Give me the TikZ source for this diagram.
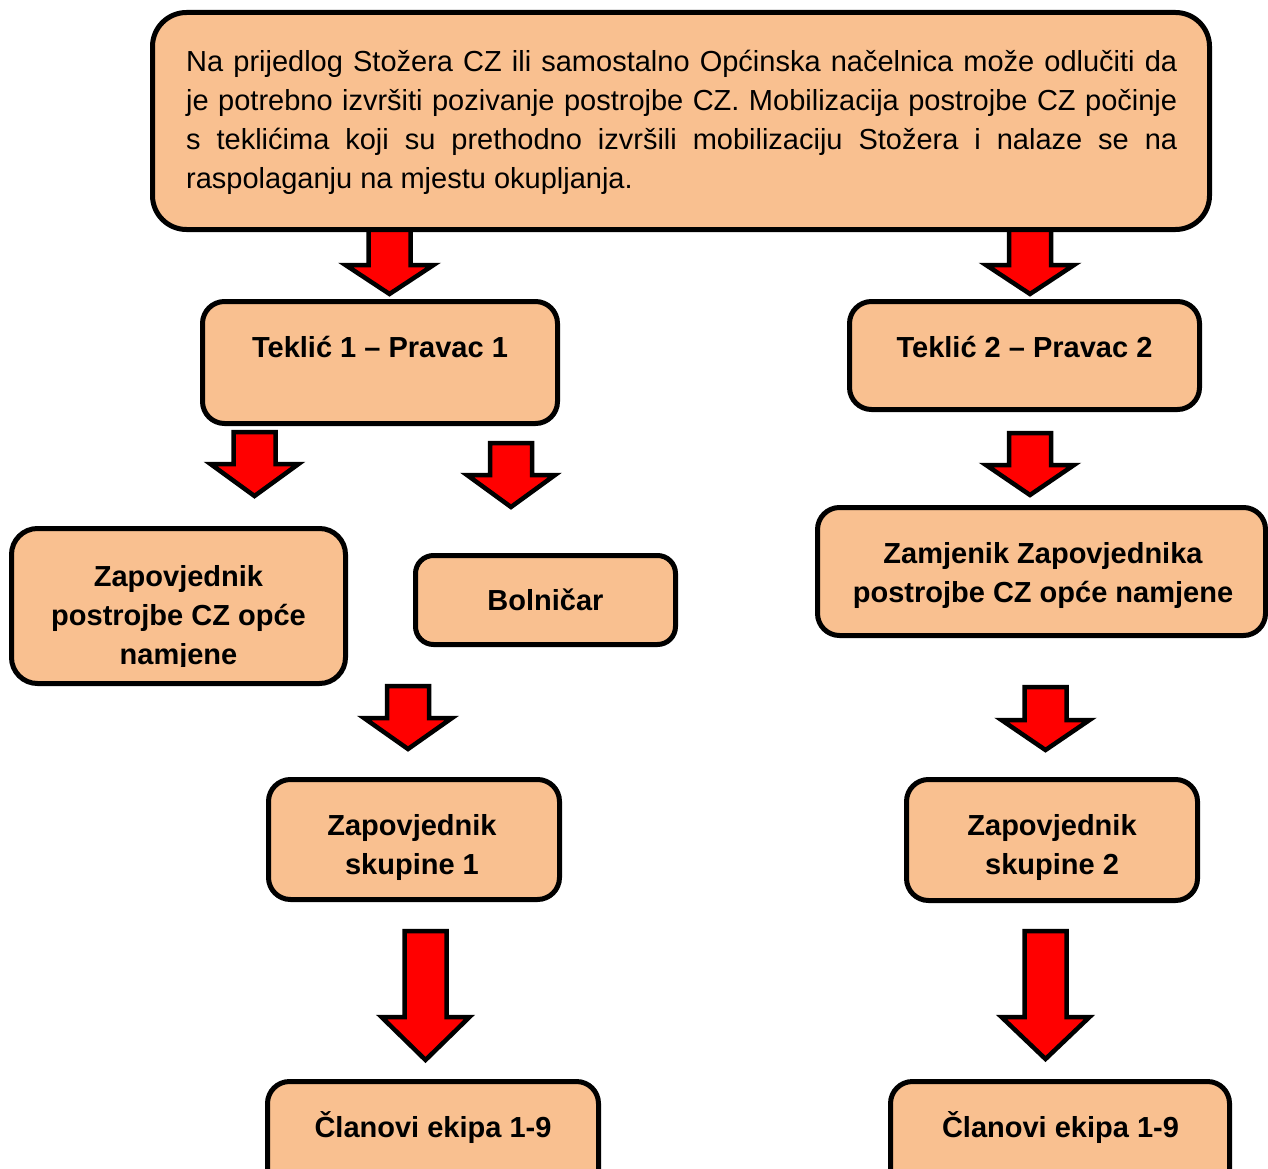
\documentclass[tikz,border=0pt]{standalone}
\usepackage{fontspec}
\setmainfont{Liberation Sans}
\definecolor{peach}{RGB}{249,192,144}
\definecolor{arrred}{RGB}{255,0,0}
\tikzset{
  box/.style={draw=black, line width=5pt, fill=peach, rounded corners=22pt, inner sep=0pt, outer sep=0pt},
  bigbox/.style={box, rounded corners=34pt},
  lbl/.style={anchor=base, inner sep=0pt, font=\fontsize{29pt}{39pt}\selectfont\bfseries},
  blockarrow/.style={draw=black, line width=4.5pt, fill=arrred, line join=miter, miter limit=10},
}
\newcommand\mkarrow[4]{% cx, top, headY, tip
  \path[blockarrow] ({#1-21},#2) -- ({#1+21},#2) -- ({#1+21},#3) -- ({#1+44},#3) -- (#1,#4) -- ({#1-44},#3) -- ({#1-21},#3) -- cycle;}
\begin{document}
\begin{tikzpicture}[x=1pt,y=-1pt]
\useasboundingbox (0,0) rectangle (1268,1169);
\clip (0,0) rectangle (1268,1169);
% arrows (drawn first, boxes overlap their ends)
\mkarrow{389.5}{228}{265}{294}
\mkarrow{1030}{228}{265}{294}
\mkarrow{254.5}{432}{464}{496}
\mkarrow{511}{443}{475}{507}
\mkarrow{1030}{433}{465}{495}
\mkarrow{408}{686}{718}{749}
\mkarrow{1045.5}{687}{720}{750}
\mkarrow{425.5}{931}{1017}{1060}
\mkarrow{1045.5}{931}{1017}{1059}
% boxes
\node[bigbox, minimum width=1057pt, minimum height=217pt] (top) at (681,121) {};
\node[box, minimum width=355pt, minimum height=122pt] (t1) at (380,362.5) {};
\node[box, minimum width=350pt, minimum height=108pt] (t2) at (1024.5,355.5) {};
\node[box, minimum width=334pt, minimum height=155pt, rounded corners=26pt] (zap) at (178.5,606) {};
\node[box, minimum width=260pt, minimum height=89pt, rounded corners=18pt] (bol) at (545.5,600) {};
\node[box, minimum width=448pt, minimum height=128pt] (zam) at (1041.5,571.5) {};
\node[box, minimum width=291pt, minimum height=120pt] (zs1) at (414,839.5) {};
\node[box, minimum width=291pt, minimum height=121pt] (zs2) at (1052,840) {};
\node[box, minimum width=331pt, minimum height=130pt] (c1) at (433,1146.5) {};
\node[box, minimum width=339pt, minimum height=130pt] (c2) at (1060,1146.5) {};
% texts
\node[anchor=base west, inner sep=0pt, font=\fontsize{29pt}{39pt}\selectfont] (topT) at (186,72)
  {\parbox[t]{991pt}{\parindent=0pt\baselineskip=39pt\hyphenpenalty=10000
  Na prijedlog Stožera CZ ili samostalno Općinska načelnica može odlučiti da\linebreak
  je potrebno izvršiti pozivanje postrojbe CZ. Mobilizacija postrojbe CZ počinje\linebreak
  s teklićima koji su prethodno izvršili mobilizaciju Stožera i nalaze se na\linebreak
  raspolaganju na mjestu okupljanja.}};
\node[lbl] (t1T) at (380,357) {Teklić 1 – Pravac 1};
\node[lbl] (t2T) at (1024.5,357) {Teklić 2 – Pravac 2};
\begin{scope}
\clip (0,500) rectangle (360,666);
\node[lbl] (zapT) at (178.5,586) {\parbox[t]{330pt}{\centering\baselineskip=39pt Zapovjednik\\postrojbe CZ opće\\namjene}};
\end{scope}
\node[lbl] (bolT) at (545.5,610) {Bolničar};
\node[lbl] (zamT) at (1043,563) {\parbox[t]{440pt}{\centering\baselineskip=39pt Zamjenik Zapovjednika\\postrojbe CZ opće namjene}};
\node[lbl] (zs1T) at (412,835) {\parbox[t]{290pt}{\centering\baselineskip=39pt Zapovjednik\\skupine 1}};
\node[lbl] (zs2T) at (1052,835) {\parbox[t]{290pt}{\centering\baselineskip=39pt Zapovjednik\\skupine 2}};
\node[lbl] (c1T) at (433,1137) {Članovi ekipa 1-9};
\node[lbl] (c2T) at (1060.5,1137) {Članovi ekipa 1-9};
\end{tikzpicture}
\end{document}
